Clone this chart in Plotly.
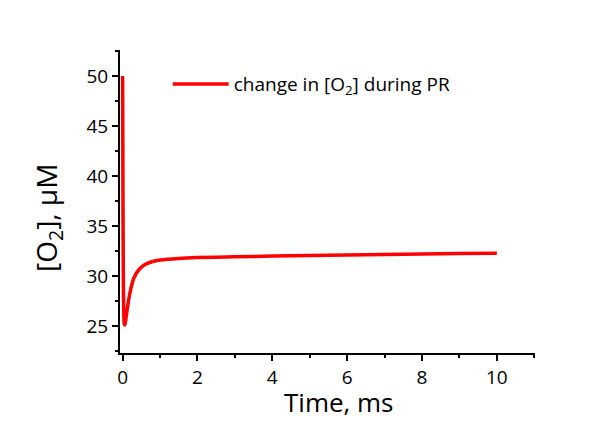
import plotly.graph_objects as go

time_ms = [0, 0.005, 0.01, 0.02, 0.03, 0.045, 0.06, 0.08, 0.12, 0.2, 0.3, 0.45, 0.6, 0.8, 1.0, 1.5, 2, 3, 4, 5, 6, 7, 8, 9, 10]
o2_uM = [50, 44, 37, 29.5, 26.5, 25.2, 25.1, 25.5, 26.6, 28.4, 29.8, 30.7, 31.15, 31.45, 31.6, 31.76, 31.84, 31.92, 31.99, 32.05, 32.1, 32.15, 32.2, 32.24, 32.27]

series_name = "change in [O<sub>2</sub>] during PR"
x_title = "Time, ms"
y_title = "[O<sub>2</sub>], μM"

FONT = "Open Sans"

fig = go.Figure()
fig.add_trace(go.Scatter(
    x=time_ms, y=o2_uM, mode="lines", name=series_name,
    line=dict(color="#ff0000", width=3.5, shape="spline", smoothing=0.6),
))

# page body has an 8px default margin, so the figure is sized/offset to compensate
fig.update_layout(
    width=602, height=415,
    margin=dict(l=112, r=75, t=42, b=70),
    paper_bgcolor="white", plot_bgcolor="white",
    font=dict(family=FONT, color="black", size=17),
    showlegend=True,
    legend=dict(x=0.115, y=0.95, xanchor="left", yanchor="top",
                bgcolor="rgba(0,0,0,0)", font=dict(size=19, family=FONT),
                itemwidth=56),
    annotations=[
        dict(text=x_title, xref="paper", yref="paper", x=0.528, y=-0.162,
             xanchor="center", yanchor="middle", showarrow=False, borderpad=0,
             font=dict(size=26, family=FONT, color="black")),
        dict(text=y_title, xref="paper", yref="paper", x=-0.1735, y=0.4455,
             xanchor="center", yanchor="middle", showarrow=False, textangle=-90,
             borderpad=0, font=dict(size=28, family=FONT, color="black")),
    ],
)
fig.update_xaxes(
    range=[-0.07, 11.02], showline=True, linecolor="black", linewidth=2,
    showgrid=False, zeroline=False, ticks="outside", ticklen=6, tickwidth=1.5,
    tickcolor="black", tick0=0, dtick=2, automargin=False,
    minor=dict(ticks="outside", ticklen=3, tickwidth=1.5, tickcolor="black", dtick=1, showgrid=False),
    tickfont=dict(size=19),
)
fig.update_yaxes(
    range=[22.3, 52.6], showline=True, linecolor="black", linewidth=2,
    showgrid=False, zeroline=False, ticks="outside", ticklen=6, tickwidth=1.5,
    tickcolor="black", tick0=0, dtick=5, automargin=False,
    minor=dict(ticks="outside", ticklen=3, tickwidth=1.5, tickcolor="black", dtick=2.5, showgrid=False),
    tickfont=dict(size=19),
)

fig.write_html("out.html")
